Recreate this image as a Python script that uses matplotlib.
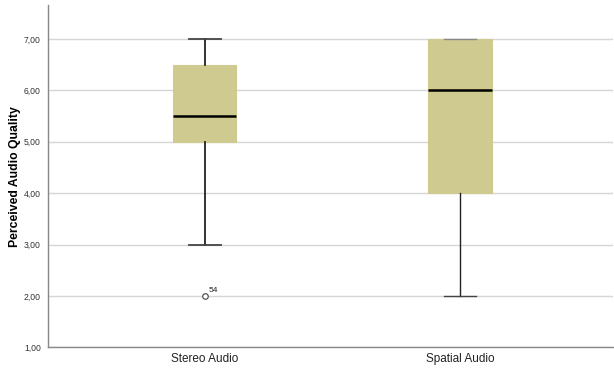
import matplotlib
matplotlib.use("Agg")
import matplotlib.pyplot as plt

plt.rcParams['font.family'] = ['Liberation Sans', 'DejaVu Sans']

categories = ["Stereo Audio", "Spatial Audio"]
whisker_low = [3.0, 2.0]
q1 = [5.0, 4.0]
median = [5.5, 6.0]
q3 = [6.5, 7.0]
whisker_high = [7.0, 7.0]
outliers = [[2.0], []]
outlier_ids = [["54"], []]
yticks = [1, 2, 3, 4, 5, 6, 7]

fig = plt.figure(figsize=(6.14, 3.69), dpi=100)
ax = fig.add_axes([0.078, 0.059, 0.921, 0.927])

stats = []
for i, name in enumerate(categories):
    stats.append(dict(label=name, whislo=whisker_low[i], q1=q1[i], med=median[i],
                      q3=q3[i], whishi=whisker_high[i], fliers=outliers[i]))

positions = [1, 2]
bp = ax.bxp(stats, positions=positions, widths=0.25, patch_artist=True,
            showfliers=True,
            boxprops=dict(facecolor="#cfca8f", edgecolor="#cfca8f", linewidth=0.8),
            medianprops=dict(color="black", linewidth=1.8),
            whiskerprops=dict(color="#222222", linewidth=1.3),
            capprops=dict(color="#444444", linewidth=1.3),
            capwidths=0.125,
            flierprops=dict(marker="o", markersize=4.0, markerfacecolor="white",
                            markeredgecolor="#555555", markeredgewidth=0.9),
            zorder=3)

# the second group's whiskers are drawn finer, its top cap sits on the box edge
for line in bp["whiskers"][2:]:
    line.set_linewidth(1.0)
for line in bp["caps"][2:]:
    line.set_linewidth(1.0)
bp["caps"][3].set_color("#888888")

for i, pos in enumerate(positions):
    for val, lab in zip(outliers[i], outlier_ids[i]):
        ax.annotate(lab, (pos, val), xytext=(3, 3), textcoords="offset points",
                    fontsize=6, color="#222222")

ax.set_xlim(0.387, 2.6)
ax.set_ylim(1.0, 7.66)
ax.set_yticks(yticks)
ax.set_yticklabels([f"{v:.2f}".replace(".", ",") for v in yticks], fontsize=6.2, color="#333333")
ax.set_xticks(positions)
ax.set_xticklabels(categories, fontsize=8.5, color="#222222")
ax.tick_params(axis="both", length=0, pad=5)
ax.tick_params(axis="x", pad=4)

ax.grid(axis="y", color="#d6d6d6", linewidth=1.0, zorder=0)
ax.set_axisbelow(True)

for side in ["top", "right"]:
    ax.spines[side].set_visible(False)
ax.spines["left"].set_color("#888888")
ax.spines["bottom"].set_color("#888888")
ax.spines["left"].set_linewidth(1.0)
ax.spines["bottom"].set_linewidth(1.0)

ax.set_ylabel("Perceived Audio Quality", fontsize=8.8, fontweight="bold")
ax.yaxis.set_label_coords(-0.047, 0.5)

fig.savefig("out.png", dpi=100, facecolor="white")
